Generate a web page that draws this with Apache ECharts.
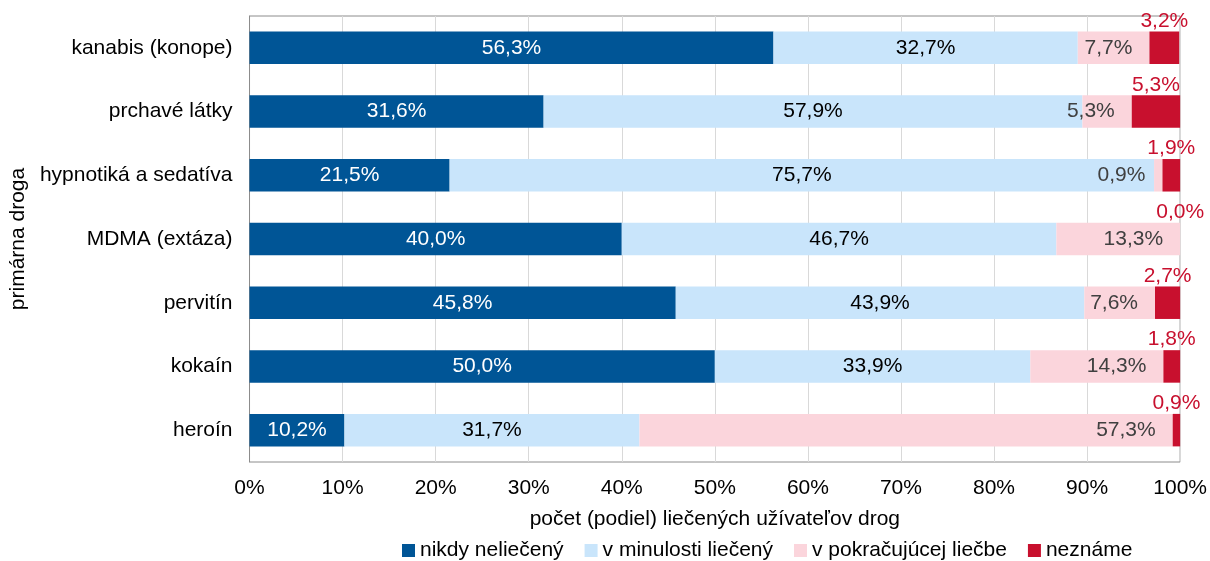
<!DOCTYPE html>
<html><head><meta charset="utf-8">
<script src="https://cdn.jsdelivr.net/npm/echarts@6/dist/echarts.min.js"></script>
<style>html,body{margin:0;padding:0;background:#fff}#c{width:1210px;height:561px}</style>
</head><body><div id="c"></div>
<script>
const categories = ['kanabis (konope)', 'prchavé látky', 'hypnotiká a sedatíva', 'MDMA (extáza)', 'pervitín', 'kokaín', 'heroín'];
const seriesNames = ['nikdy neliečený', 'v minulosti liečený', 'v pokračujúcej liečbe', 'neznáme'];
const nikdy = [56.3, 31.6, 21.5, 40.0, 45.8, 50.0, 10.2];
const minulost = [32.7, 57.9, 75.7, 46.7, 43.9, 33.9, 31.7];
const pokracujuca = [7.7, 5.3, 0.9, 13.3, 7.6, 14.3, 57.3];
const nezname = [3.2, 5.3, 1.9, 0.0, 2.7, 1.8, 0.9];
const xTicks = [0, 10, 20, 30, 40, 50, 60, 70, 80, 90, 100];

const FONT = "'Liberation Sans', Arial, sans-serif";
const FS = 21;
const fmt = p => p.value.toFixed(1).replace('.', ',') + '%';
const colors = ['#005596', '#c9e5fb', '#fbd5dc', '#c8102e'];

function mk(name, data, color, label) {
  return {
    name, type: 'bar', stack: 'a', data, barWidth: '51%',
    itemStyle: { color },
    label: Object.assign({ show: true, formatter: fmt, fontFamily: FONT, fontSize: FS }, label)
  };
}

const chart = echarts.init(document.getElementById('c'), null, { renderer: 'canvas' });
chart.setOption({
  animation: false,
  textStyle: { fontFamily: FONT },
  grid: { left: 249, right: 29, top: 16, bottom: 99, show: true, borderColor: '#8c8c8c', borderWidth: 1 },
  xAxis: {
    type: 'value', min: 0, max: 100, interval: 10,
    axisLine: { show: false }, axisTick: { show: false },
    splitLine: { lineStyle: { color: '#d9d9d9', width: 1 } },
    axisLabel: { formatter: v => xTicks.includes(v) ? v + '%' : '', color: '#000', fontSize: FS, fontFamily: FONT, margin: 16 },
    name: 'počet (podiel) liečených užívateľov drog', nameLocation: 'middle', nameGap: 47,
    nameTextStyle: { color: '#000', fontSize: FS, fontFamily: FONT }
  },
  yAxis: {
    type: 'category', data: categories, inverse: true,
    axisLine: { show: true, lineStyle: { color: '#8c8c8c' } }, axisTick: { show: false },
    axisLabel: { color: '#000', fontSize: FS, fontFamily: FONT, margin: 17 },
    name: 'primárna droga', nameLocation: 'middle', nameGap: 220, nameRotate: 90,
    nameTextStyle: { color: '#000', fontSize: FS, fontFamily: FONT }
  },
  legend: {
    left: 402, bottom: 0, padding: [0, 0, 0, 0], itemWidth: 13, itemHeight: 13, itemGap: 21, icon: 'rect',
    textStyle: { color: '#000', fontSize: FS, fontFamily: FONT }
  },
  series: [
    mk(seriesNames[0], nikdy, colors[0], { position: 'inside', color: '#fff' }),
    mk(seriesNames[1], minulost, colors[1], { position: 'inside', color: '#000' }),
    mk(seriesNames[2], pokracujuca, colors[2], { position: 'insideRight', distance: 17, color: '#404040' }),
    mk(seriesNames[3], nezname, colors[3], { position: 'top', distance: 0, color: '#c8102e' })
  ]
});
</script></body></html>
